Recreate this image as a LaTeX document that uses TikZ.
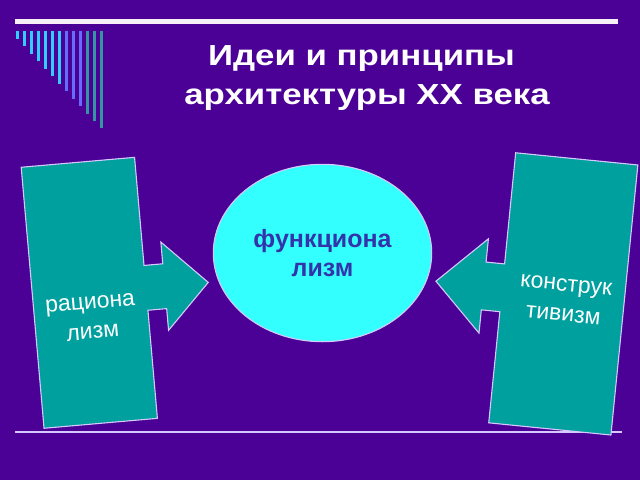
\documentclass[tikz,border=0pt]{standalone}
\usepackage{fontspec}
\setmainfont{Liberation Sans}
\usepackage{tikz}
\usetikzlibrary{shapes.geometric}
\definecolor{slidebg}{RGB}{75,0,150}
\definecolor{boxteal}{RGB}{0,160,158}
\definecolor{ovalcyan}{RGB}{51,255,255}
\definecolor{ovaltext}{RGB}{51,51,170}
\definecolor{edgeline}{RGB}{215,200,255}
\definecolor{barcyan}{RGB}{51,204,255}
\definecolor{barblue}{RGB}{100,110,250}
\definecolor{barteal}{RGB}{51,150,160}

\begin{document}
\begin{tikzpicture}[x=1pt,y=-1pt,
    callout/.style={fill=boxteal,draw=edgeline,line width=1.1pt,line join=miter},
    sidetext/.style={text=white,align=center,transform shape,font=\fontsize{23}{30}\selectfont},
    titletext/.style={text=white,anchor=base,xscale=1.2,font=\fontsize{29}{34}\selectfont\bfseries}]
        \useasboundingbox (0,0) rectangle (640,480);
        \fill[slidebg] (0,0) rectangle (640,480);
        % bars in the corner
        \foreach \i in {0,...,6} \fill[barcyan] ({15.9+7*\i},31) rectangle ++(2.8,{8+7.45*\i});
        \foreach \i in {7,...,9} \fill[barblue] ({15.9+7*\i},31) rectangle ++(2.8,{8+7.45*\i});
        \foreach \i in {10,...,12} \fill[barteal] ({15.9+7*\i},31) rectangle ++(2.8,{8+7.45*\i});
        \draw[line width=5pt,color=white!94!violet] (15,21) -- (618,21);
        \draw[line width=1.6pt,color=edgeline] (15,432) -- (622,432);
        \node[titletext] (title1) at (361.5,65) {Идеи и принципы};
        \node[titletext] (title2) at (367,104) {архитектуры XX века};
        % left callout
        \begin{scope}[shift={(89.3,292.8)},rotate=5]
          \draw[callout] (-56.9,-131) -- (56.9,-131) -- (56.9,-22.5) -- (75.7,-22.5) -- (75.7,-44.3)
            -- (119.4,0) -- (75.7,44.3) -- (75.7,22.5) -- (56.9,22.5) -- (56.9,131) -- (-56.9,131) -- cycle;
          \node[sidetext] (ratio) at (0,25) {рациона\\лизм};
        \end{scope}
        % right callout
        \begin{scope}[shift={(563.3,293.9)},rotate=-5.7]
          \draw[callout] (61.4,-135.7) -- (-61.4,-135.7) -- (-61.4,-24) -- (-80,-24) -- (-80,-47.4)
            -- (-128,0) -- (-80,47.4) -- (-80,24) -- (-61.4,24) -- (-61.4,135.7) -- (61.4,135.7) -- cycle;
          \node[sidetext] (constr) at (2,6) {конструк\\тивизм};
        \end{scope}
        \node[ellipse,fill=ovalcyan,draw=edgeline,line width=1.1pt,minimum width=218.4pt,minimum height=177.4pt,
          inner sep=0pt,align=center,text=ovaltext,font=\fontsize{25}{28.5}\selectfont\bfseries] (func) at (322.5,253) {функциона\\лизм};
\end{tikzpicture}
\end{document}
